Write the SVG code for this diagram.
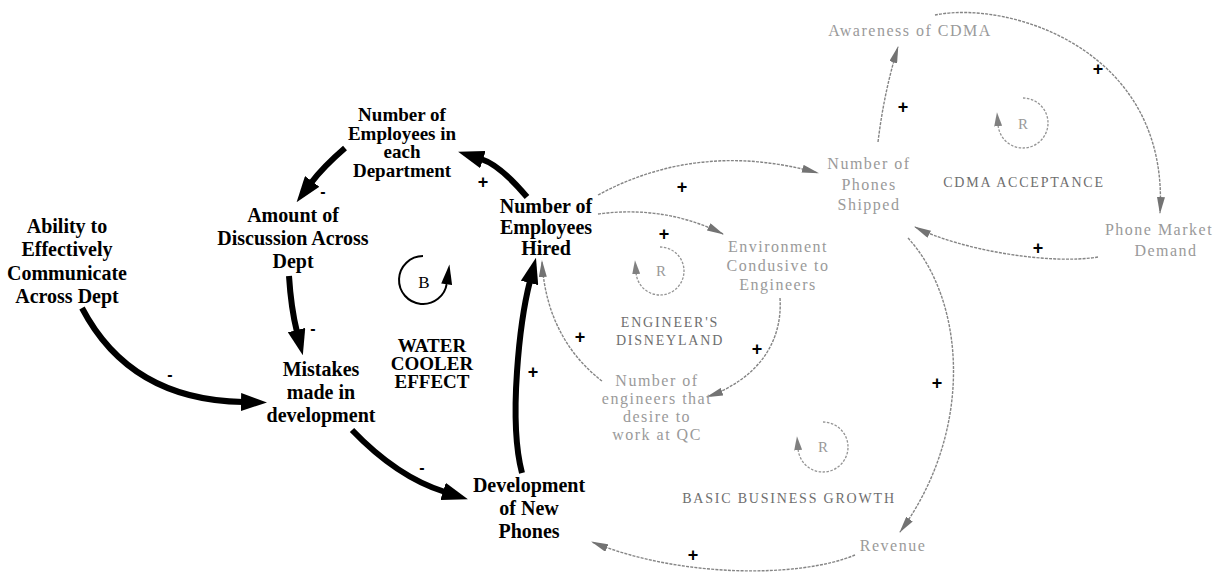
<svg xmlns="http://www.w3.org/2000/svg" width="1224" height="573" viewBox="0 0 1224 573">
  <style>
    .blk { font-family: "Liberation Serif", "Times New Roman", serif; font-weight: bold; font-size: 20px; fill: #000; text-anchor: middle; }
    .tight { font-size: 19px; }
    .gry { font-family: "Liberation Serif", "Times New Roman", serif; font-size: 16px; fill: #9a9a9a; letter-spacing: 1.5px; text-anchor: middle; }
    .cap { font-family: "Liberation Serif", "Times New Roman", serif; font-size: 14px; fill: #6e6e6e; letter-spacing: 1.8px; text-anchor: middle; }
    .rlbl { font-family: "Liberation Serif", "Times New Roman", serif; font-size: 15px; fill: #999; text-anchor: middle; }
    .thick { fill: none; stroke: #000; stroke-width: 6; marker-end: url(#bigHead); }
    .thin { fill: none; stroke: #858585; stroke-width: 1.4; stroke-dasharray: 3 1.2; marker-end: url(#smallHead); }
    .loop { fill: none; stroke: #949494; stroke-width: 1.3; stroke-dasharray: 2.5 1.5; marker-end: url(#loopHead); }
    .sign { font-family: "Liberation Sans", Arial, sans-serif; font-size: 18px; font-weight: bold; fill: #000; text-anchor: middle; }
    .minus { font-family: "Liberation Sans", Arial, sans-serif; font-size: 16px; font-weight: bold; fill: #000; text-anchor: middle; }
  </style>
  <defs>
    <marker id="bigHead" markerUnits="userSpaceOnUse" viewBox="0 0 26 18" markerWidth="26" markerHeight="18" refX="2" refY="9" orient="auto">
      <path d="M0,0 L26,9 L0,18 Z" fill="#000"/>
    </marker>
    <marker id="smallHead" markerUnits="userSpaceOnUse" viewBox="0 0 17 8" markerWidth="17" markerHeight="8" refX="16" refY="4" orient="auto">
      <path d="M0,0 L17,4 L0,8 Z" fill="#737373"/>
    </marker>
    <marker id="loopHead" markerUnits="userSpaceOnUse" viewBox="0 0 14 8" markerWidth="14" markerHeight="8" refX="1" refY="4" orient="auto">
      <path d="M0,0 L14,4 L0,8 Z" fill="#808080"/>
    </marker>
    <marker id="bHead" markerUnits="userSpaceOnUse" viewBox="0 0 20 11" markerWidth="20" markerHeight="11" refX="1" refY="5.5" orient="auto">
      <path d="M0,0 L20,5.5 L0,11 Z" fill="#000"/>
    </marker>
  </defs>

  <rect width="1224" height="573" fill="#fff"/>

  <!-- causal links -->
  <g id="connectors">
    <!-- water cooler loop (bold) -->
    <path class="thick" d="M527,197 Q500,165 481,159"/>
    <path class="thick" d="M345,148 Q323,167 311,183"/>
    <path class="thick" d="M289,276 Q291,308 297,332"/>
    <path class="thick" d="M82,308 Q130,400 243,402"/>
    <path class="thick" d="M352,430 Q397,477 445,492"/>
    <path class="thick" d="M522,473 C508,420 520,320 530,281"/>
    <!-- other loops (light) -->
    <path class="thin" d="M598,195 Q700,140 818,173"/>
    <path class="thin" d="M598,214 Q665,205 723,234"/>
    <path class="thin" d="M780,298 C783,345 755,380 707,397"/>
    <path class="thin" d="M602,381 C572,358 545,320 542,261"/>
    <path class="thin" d="M878,142 Q884,92 898,47"/>
    <path class="thin" d="M935,15 C1010,0 1170,50 1160,213"/>
    <path class="thin" d="M1098,257 C1050,265 960,250 915,227"/>
    <path class="thin" d="M908,238 C965,300 975,430 900,532"/>
    <path class="thin" d="M855,555 C800,578 680,578 592,542"/>

    <!-- polarity signs -->
    <text class="sign" x="483" y="188">+</text>
    <text class="sign" x="682" y="193">+</text>
    <text class="sign" x="664" y="240">+</text>
    <text class="sign" x="757" y="355">+</text>
    <text class="sign" x="580" y="343">+</text>
    <text class="sign" x="533" y="378">+</text>
    <text class="sign" x="903" y="113">+</text>
    <text class="sign" x="1098" y="75">+</text>
    <text class="sign" x="1038" y="254">+</text>
    <text class="sign" x="937" y="389">+</text>
    <text class="sign" x="693" y="561">+</text>
    <text class="minus" x="323" y="197">-</text>
    <text class="minus" x="313" y="334">-</text>
    <text class="minus" x="170" y="380">-</text>
    <text class="minus" x="422" y="473">-</text>
  </g>

  <!-- variables -->
  <g id="employees-per-dept">
    <text class="blk tight"><tspan x="402" y="121">Number of</tspan><tspan x="402" y="139.5">Employees in</tspan><tspan x="402" y="158">each</tspan><tspan x="402" y="176.5">Department</tspan></text>
  </g>
  <g id="discussion">
    <text class="blk"><tspan x="293" y="222">Amount of</tspan><tspan x="293" y="245">Discussion Across</tspan><tspan x="293" y="268">Dept</tspan></text>
  </g>
  <g id="ability">
    <text class="blk"><tspan x="67" y="233">Ability to</tspan><tspan x="67" y="256">Effectively</tspan><tspan x="67" y="280">Communicate</tspan><tspan x="67" y="303">Across Dept</tspan></text>
  </g>
  <g id="employees-hired">
    <text class="blk"><tspan x="546" y="213">Number of</tspan><tspan x="546" y="234">Employees</tspan><tspan x="546" y="255">Hired</tspan></text>
  </g>
  <g id="mistakes">
    <text class="blk"><tspan x="321" y="376">Mistakes</tspan><tspan x="321" y="399">made in</tspan><tspan x="321" y="422">development</tspan></text>
  </g>
  <g id="development">
    <text class="blk"><tspan x="529" y="492">Development</tspan><tspan x="529" y="515">of New</tspan><tspan x="529" y="538">Phones</tspan></text>
  </g>
  <g id="environment">
    <text class="gry"><tspan x="778" y="252">Environment</tspan><tspan x="778" y="271">Condusive to</tspan><tspan x="778" y="290">Engineers</tspan></text>
  </g>
  <g id="engineers-desire">
    <text class="gry"><tspan x="657" y="386">Number of</tspan><tspan x="657" y="404">engineers that</tspan><tspan x="657" y="422">desire to</tspan><tspan x="657" y="440">work at QC</tspan></text>
  </g>
  <g id="phones-shipped">
    <text class="gry"><tspan x="869" y="169">Number of</tspan><tspan x="869" y="190">Phones</tspan><tspan x="869" y="210">Shipped</tspan></text>
  </g>
  <g id="awareness">
    <text class="gry" x="910" y="36">Awareness of CDMA</text>
  </g>
  <g id="market-demand">
    <text class="gry"><tspan x="1159" y="235">Phone Market</tspan><tspan x="1166" y="256">Demand</tspan></text>
  </g>
  <g id="revenue">
    <text class="gry" x="893" y="551">Revenue</text>
  </g>

  <!-- loop markers -->
  <g id="loop-water-cooler">
    <path d="M423,256 A24,24 0 1 0 446.8,283.3" fill="none" stroke="#000" stroke-width="2" marker-end="url(#bHead)"/>
    <text x="424" y="288" font-family="Liberation Serif, Times New Roman, serif" font-size="17" text-anchor="middle" fill="#000">B</text>
    <text class="blk tight"><tspan x="432" y="352">WATER</tspan><tspan x="432" y="370">COOLER</tspan><tspan x="432" y="388">EFFECT</tspan></text>
  </g>
  <g id="loop-disneyland">
    <path class="loop" d="M660,247 A24,24 0 1 1 636.1,273.1"/>
    <text class="rlbl" x="661" y="276">R</text>
    <text class="cap"><tspan x="670" y="327">ENGINEER'S</tspan><tspan x="670" y="345">DISNEYLAND</tspan></text>
  </g>
  <g id="loop-cdma">
    <path class="loop" d="M1023,98 A25,25 0 1 1 998.1,125.2"/>
    <text class="rlbl" x="1023" y="129">R</text>
    <text class="cap" x="1024" y="187">CDMA ACCEPTANCE</text>
  </g>
  <g id="loop-business">
    <path class="loop" d="M823,422 A25,25 0 1 1 798.1,449.2"/>
    <text class="rlbl" x="823" y="452">R</text>
    <text class="cap" x="789" y="503">BASIC BUSINESS GROWTH</text>
  </g>
</svg>
